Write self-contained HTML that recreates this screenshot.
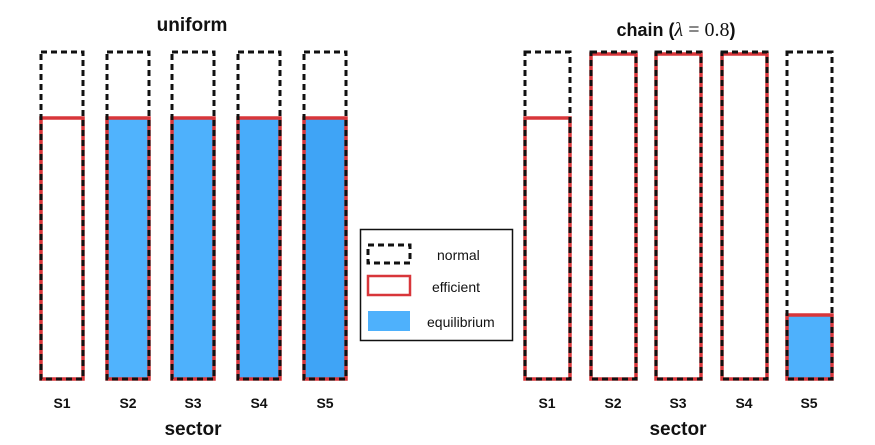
<!DOCTYPE html>
<html><head><meta charset="utf-8"><style>
html,body{margin:0;padding:0;background:#fff;}
svg{display:block;}
text{font-family:"Liberation Sans",Arial,sans-serif;font-weight:bold;fill:#111;}
</style></head><body>
<svg width="875" height="445" viewBox="0 0 875 445" xmlns="http://www.w3.org/2000/svg">
<text x="192" y="31" font-size="19" text-anchor="middle">uniform</text>
<text x="676" y="36" font-size="18" text-anchor="middle">chain (<tspan font-family="Liberation Serif" font-style="italic" font-weight="normal" font-size="20">λ</tspan><tspan font-family="Liberation Serif" font-weight="normal" font-size="20"> = 0.8</tspan>)</text>

<g stroke-width="3.5" fill="none">
 <rect x="41" y="118" width="42" height="261" fill="#fff" stroke="#d8363a"/>
 <rect x="107" y="118" width="42" height="261" fill="#50b3fd" stroke="#d8363a"/>
 <rect x="172" y="118" width="42" height="261" fill="#4eb1fc" stroke="#d8363a"/>
 <rect x="238" y="118" width="42" height="261" fill="#48acfa" stroke="#d8363a"/>
 <rect x="304" y="118" width="42" height="261" fill="#3fa4f6" stroke="#d8363a"/>
 <g stroke="#111" stroke-dasharray="6,4" stroke-width="3">
  <rect x="41" y="52" width="42" height="327"/>
  <rect x="107" y="52" width="42" height="327"/>
  <rect x="172" y="52" width="42" height="327"/>
  <rect x="238" y="52" width="42" height="327"/>
  <rect x="304" y="52" width="42" height="327"/>
 </g>
</g>
<g font-size="14" text-anchor="middle">
<text x="62" y="408">S1</text><text x="128" y="408">S2</text><text x="193" y="408">S3</text><text x="259" y="408">S4</text><text x="325" y="408">S5</text>
</g>
<text x="193" y="435" font-size="19" text-anchor="middle">sector</text>

<g stroke-width="3.5" fill="none">
 <rect x="525" y="118" width="45" height="261" fill="#fff" stroke="#d8363a"/>
 <rect x="591" y="54" width="45" height="325" fill="#fff" stroke="#d8363a"/>
 <rect x="656" y="54" width="45" height="325" fill="#fff" stroke="#d8363a"/>
 <rect x="722" y="54" width="45" height="325" fill="#fff" stroke="#d8363a"/>
 <rect x="787" y="315" width="45" height="64" fill="#4eb1fc" stroke="#d8363a"/>
 <g stroke="#111" stroke-dasharray="6,4" stroke-width="3">
  <rect x="525" y="52" width="45" height="327"/>
  <rect x="591" y="52" width="45" height="327"/>
  <rect x="656" y="52" width="45" height="327"/>
  <rect x="722" y="52" width="45" height="327"/>
  <rect x="787" y="52" width="45" height="327"/>
 </g>
</g>
<g font-size="14" text-anchor="middle">
<text x="547" y="408">S1</text><text x="613" y="408">S2</text><text x="678" y="408">S3</text><text x="744" y="408">S4</text><text x="809" y="408">S5</text>
</g>
<text x="678" y="435" font-size="19" text-anchor="middle">sector</text>

<rect x="360.5" y="229.5" width="152" height="111" fill="#fff" stroke="#111" stroke-width="1.5"/>
<rect x="368" y="245" width="42" height="18" fill="none" stroke="#111" stroke-width="3" stroke-dasharray="6,4"/>
<rect x="368" y="276" width="42" height="19" fill="none" stroke="#d8363a" stroke-width="2.5"/>
<rect x="368" y="311" width="42" height="20" fill="#4eb1fc"/>
<text x="437" y="260" font-size="14" style="font-weight:normal">normal</text>
<text x="432" y="292" font-size="14" style="font-weight:normal">efficient</text>
<text x="427" y="327" font-size="14" style="font-weight:normal">equilibrium</text>
</svg>
</body></html>
